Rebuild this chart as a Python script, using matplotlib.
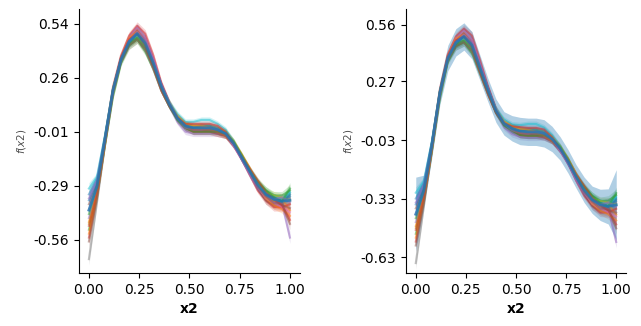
"""Partial dependence of f on x2 — two model runs, one curve per bootstrap fit."""
import matplotlib.pyplot as plt
import numpy as np

X2 = [0.00, 0.04, 0.08, 0.12, 0.16, 0.20, 0.24, 0.28, 0.32, 0.36, 0.40, 0.44, 0.48,
      0.52, 0.56, 0.60, 0.64, 0.68, 0.72, 0.76, 0.80, 0.84, 0.88, 0.92, 0.96, 1.00]

# averaged shape function, left and right run
MEAN_L = [-0.41, -0.29, -0.05, 0.20, 0.36, 0.45, 0.49, 0.44, 0.34, 0.22, 0.13, 0.06, 0.02,
          0.01, 0.01, 0.01, 0.00, -0.02, -0.07, -0.14, -0.21, -0.28, -0.33, -0.355, -0.365, -0.36]
MEAN_R = [-0.41, -0.29, -0.06, 0.21, 0.39, 0.47, 0.50, 0.455, 0.34, 0.225, 0.12, 0.055, 0.03,
          0.016, 0.012, 0.012, 0.004, -0.025, -0.073, -0.14, -0.217, -0.285, -0.336, -0.362, -0.37, -0.362]

# per-fit deviation from the averaged curve (hundredths)
DEV = [
    [8, 4, 2, 1, 1, 2, 3, 3, 2, 1, 0, 0, 1, 1, 1, 1, 0, 0, 0, -1, -1, -2, -2, -1, 0, 3],
    [-6, -3, -2, -1, 0, 1, 2, 2, 1, 0, 0, -1, -1, -1, 0, 0, 0, 1, 1, 1, 1, 0, -1, -1, 1, -5],
    [-10, -5, -3, -3, -2, -2, -3, -4, -3, -2, -1, 0, 0, 0, 0, 0, 0, 0, 0, 1, 1, 2, 2, 2, 3, 5],
    [-14, -4, 1, 2, 2, 3, 4, 5, 4, 2, 1, 0, -1, -2, -2, -2, -2, -1, -1, -1, -2, -3, -3, -4, -3, -2],
    [-4, -2, -1, 0, 0, 0, 1, 1, 1, 0, -1, -2, -3, -3, -3, -3, -2, -1, -1, 0, 0, -1, -2, -2, -1, -19],
    [3, 1, 0, 0, 0, 1, 2, 2, 1, 1, 0, 0, -1, -2, -2, -2, -2, -1, -1, 0, 0, -2, -3, -3, -2, -4],
    [0, -1, 0, 1, 1, 2, 3, 3, 2, 1, 0, 0, 0, 0, 0, 0, 0, 0, -1, -1, -1, -1, -2, -2, -3, -6],
    [-25, -8, -3, -2, -1, -1, -2, -3, -3, -2, -1, 0, 0, 0, 0, -1, -1, 0, 0, 0, 0, 0, 0, 0, 1, 1],
    [-7, -3, -2, -1, -1, 0, -1, -2, -1, 0, 1, 1, 1, 1, 1, 1, 1, 1, 1, 1, 1, 1, 1, 2, 2, 0],
    [11, 5, 2, 1, 0, 0, -1, -2, -1, 0, 1, 2, 2, 3, 4, 4, 3, 2, 1, 0, 0, 0, 1, 1, 1, 4],
    [5, 2, 1, 0, -1, -1, 0, 1, 1, 1, 0, -1, -1, 0, 1, 1, 1, 0, 0, -1, -1, -1, 0, 1, 0, 2],
    [-12, -5, -2, 0, 1, 2, 1, 0, 0, 0, 0, 1, 1, 1, 1, 0, -1, -1, 0, 1, 1, 0, -2, -3, -4, -8],
    [-2, 0, 1, 1, 0, -1, -2, -2, -1, -1, -1, -1, -1, -2, -2, -2, -1, 0, 1, 1, 0, 1, 2, 1, 0, 6],
    [-8, -3, -1, 0, 1, 1, 0, -1, -2, -2, -1, 0, 1, 2, 2, 2, 2, 1, 0, 0, 1, 2, 1, 0, -2, -10],
    [6, 3, 1, 0, 0, 0, 1, 2, 2, 1, 1, 0, -1, -1, -1, 0, 0, 0, -1, -1, -2, -2, -1, 0, 2, -1],
    [-16, -6, -2, -1, -1, -2, -3, -3, -2, -1, 0, 0, 0, -1, -1, -1, -1, -1, 0, 0, 0, -1, -1, -2, -1, -12],
]

# confidence half-widths: per-fit bands, and the band of the averaged curve
BAND_L = [0.03, 0.02, 0.015, 0.015, 0.015, 0.02, 0.02, 0.02, 0.015, 0.015, 0.015, 0.015, 0.015,
          0.015, 0.015, 0.015, 0.015, 0.015, 0.015, 0.015, 0.015, 0.015, 0.02, 0.02, 0.02, 0.03]
BAND_R = [0.03, 0.02, 0.015, 0.015, 0.015, 0.02, 0.02, 0.02, 0.015, 0.015, 0.015, 0.015, 0.015,
          0.015, 0.015, 0.015, 0.015, 0.015, 0.015, 0.015, 0.015, 0.015, 0.02, 0.02, 0.025, 0.03]
MEAN_BAND_R = [0.19, 0.08, 0.06, 0.06, 0.065, 0.07, 0.07, 0.07, 0.065, 0.06, 0.06, 0.06, 0.065,
               0.07, 0.07, 0.07, 0.07, 0.065, 0.06, 0.06, 0.06, 0.065, 0.07, 0.08, 0.09, 0.18]

YTICKS_L = [-0.56, -0.285, -0.01, 0.265, 0.54]
YTICKLABELS_L = ["-0.56", "-0.29", "-0.01", "0.26", "0.54"]
YTICKS_R = [-0.63, -0.33, -0.03, 0.27, 0.56]
YTICKLABELS_R = ["-0.63", "-0.33", "-0.03", "0.27", "0.56"]
XTICKS = [0.0, 0.25, 0.5, 0.75, 1.0]

COLORS = plt.rcParams["axes.prop_cycle"].by_key()["color"]


def draw_panel(ax, mean, band, mean_band, yticks, yticklabels):
    x = np.array(X2)
    mean = np.array(mean)
    band = np.array(band)
    for i, dev in enumerate(DEV):
        y = mean + np.array(dev) / 100
        c = COLORS[i % len(COLORS)]
        ax.fill_between(x, y - band, y + band, color=c, alpha=0.2, linewidth=0)
        ax.plot(x, y, color=c, alpha=0.5, linewidth=1.5)
    if mean_band is not None:
        mb = np.array(mean_band)
        ax.fill_between(x, mean - mb, mean + mb, color="#1f77b4", alpha=0.35, linewidth=0)
    ax.plot(x, mean, color="#1f77b4", alpha=0.8, linewidth=2)

    ax.set_xticks(XTICKS)
    ax.set_xticklabels(["0.00", "0.25", "0.50", "0.75", "1.00"])
    ax.set_yticks(yticks)
    ax.set_yticklabels(yticklabels)
    ax.set_xlabel("x2", fontweight="bold")
    ax.set_ylabel(r"$f(x2)$", fontsize=7.5, color="0.3")
    ax.spines["top"].set_visible(False)
    ax.spines["right"].set_visible(False)


fig = plt.figure(figsize=(6.41, 3.26), dpi=100)
ax1 = fig.add_axes([0.123, 0.163, 0.345, 0.809])
ax2 = fig.add_axes([0.633, 0.163, 0.344, 0.809])
draw_panel(ax1, MEAN_L, BAND_L, None, YTICKS_L, YTICKLABELS_L)
draw_panel(ax2, MEAN_R, BAND_R, MEAN_BAND_R, YTICKS_R, YTICKLABELS_R)
ax1.set_ylim(-0.73, 0.615)
ax2.set_ylim(-0.71, 0.64)
ax1.set_xlim(-0.05, 1.05)
ax2.set_xlim(-0.05, 1.05)

plt.savefig("out.png", dpi=100)
